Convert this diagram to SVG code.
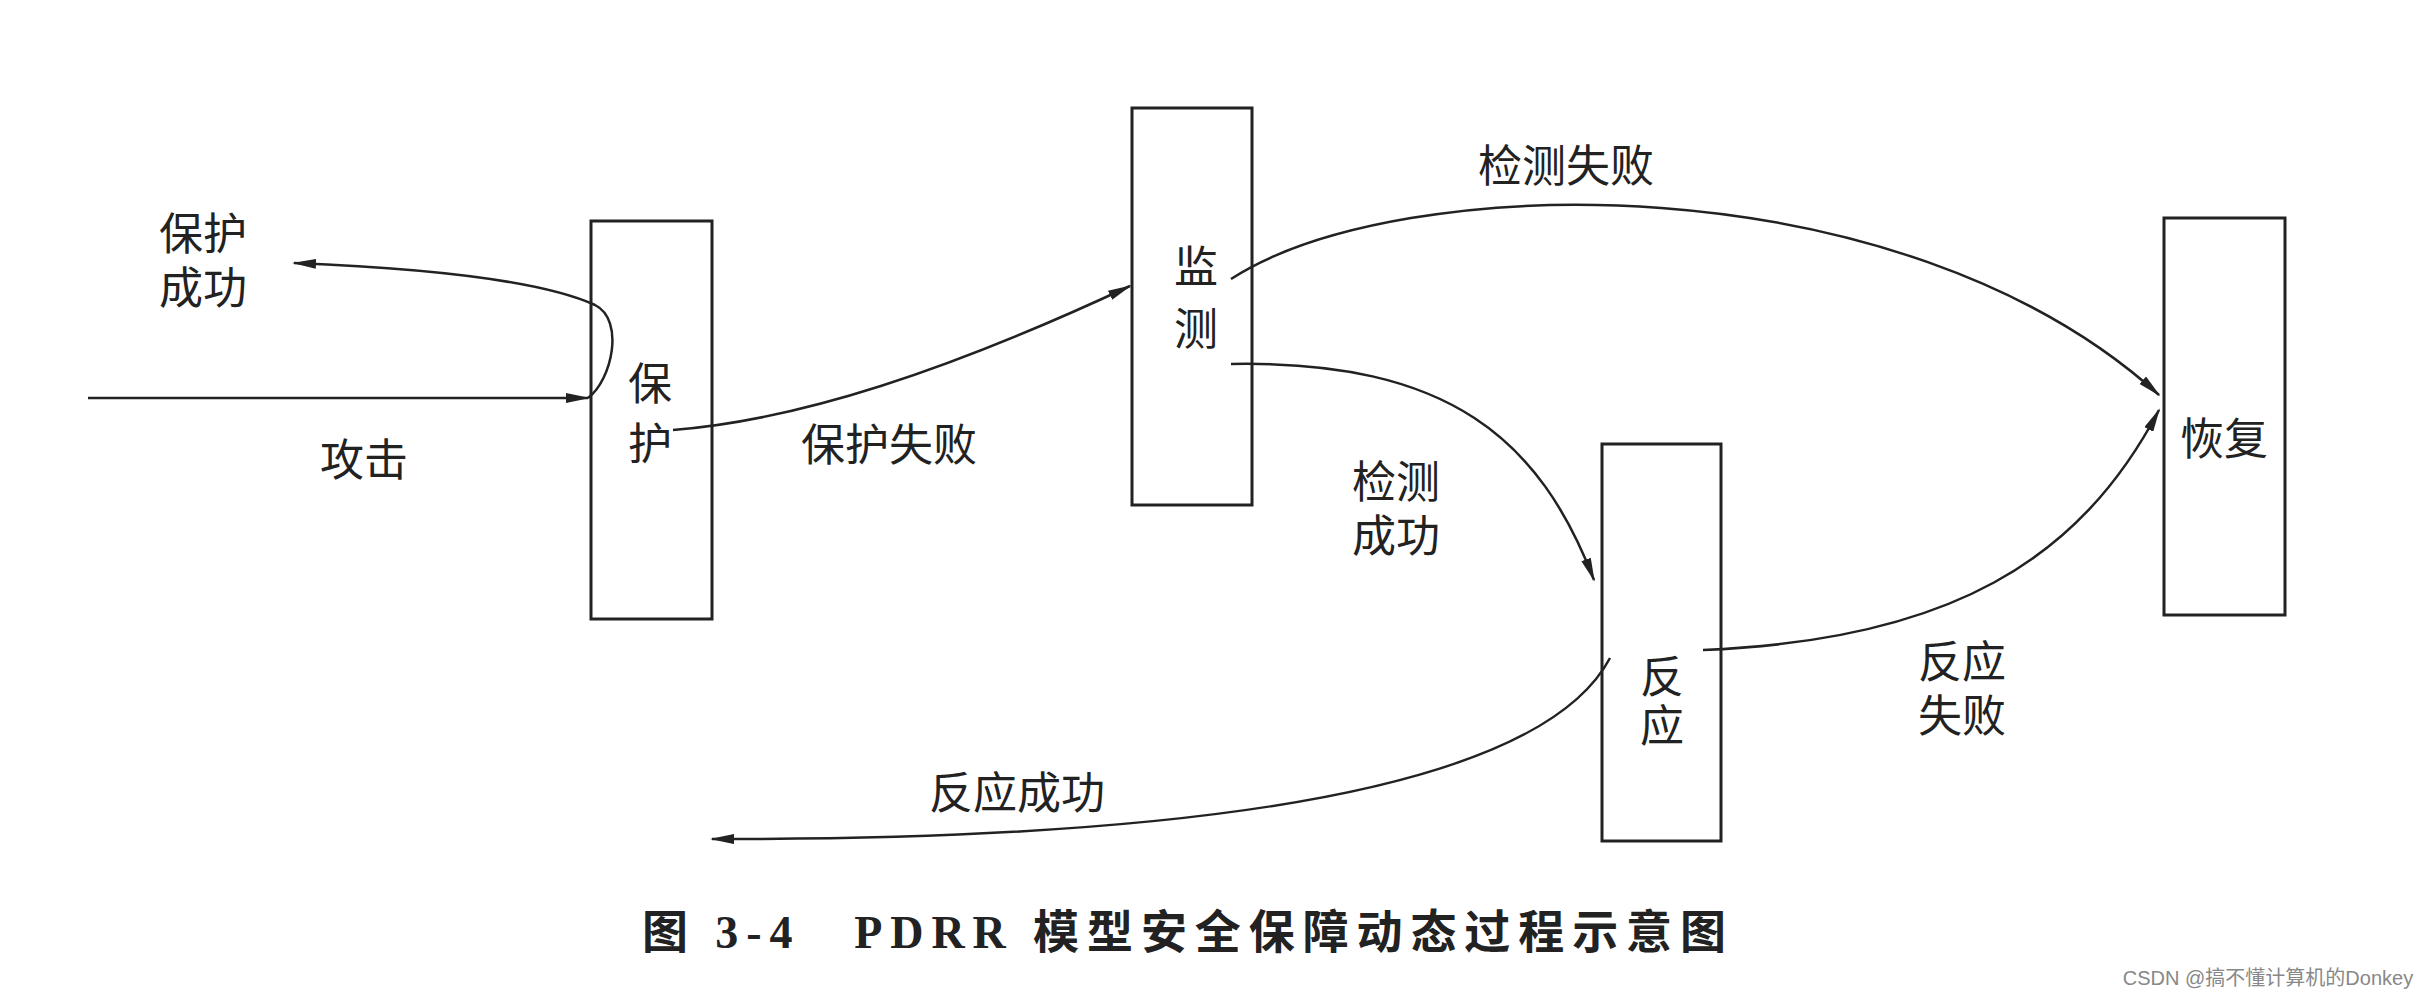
<svg xmlns="http://www.w3.org/2000/svg" width="2427" height="1000" viewBox="0 0 2427 1000">
<style>
.box{fill:none;stroke:#222;stroke-width:3}
.c{fill:none;stroke:#222;stroke-width:2.5;marker-end:url(#ah)}
text{font-family:"Liberation Sans","Noto Sans CJK SC",sans-serif;font-size:44px;fill:#222;text-anchor:middle}
.cap{font-family:"Liberation Serif","Noto Sans CJK SC",serif;font-weight:bold;font-size:46px;text-anchor:start}
.wm{font-size:20px;fill:#888}
</style>
<defs><marker id="ah" markerWidth="24" markerHeight="10" refX="22" refY="5" orient="auto" markerUnits="userSpaceOnUse"><path d="M0,0 L24,5 L0,10 Z" fill="#222"/></marker></defs>
<rect width="2427" height="1000" fill="#fff"/>
<g id="protect"><rect class="box" x="591" y="221" width="121" height="398"/><text x="650" y="400">保</text><text x="650" y="460">护</text></g>
<g id="detect"><rect class="box" x="1132" y="108" width="120" height="397"/><text x="1196" y="283">监</text><text x="1196" y="345">测</text></g>
<g id="react"><rect class="box" x="1602" y="444" width="119" height="397"/><text x="1662" y="693">反</text><text x="1662" y="742">应</text></g>
<g id="recover"><rect class="box" x="2164" y="218" width="121" height="397"/><text x="2224" y="455">恢复</text></g>
<g id="connectors">
<path class="c" d="M88 398 L588 398"/>
<path class="c" d="M588 398 C612 380 625 320 595 305 C540 280 420 268 294 263"/>
<path class="c" d="M673 430 C800 420 950 370 1130 286"/>
<path class="c" d="M1231 279 C1400 170 1900 160 2159 395"/>
<path class="c" d="M1231 364 C1450 360 1540 440 1594 580"/>
<path class="c" d="M1703 650 C1950 640 2080 560 2159 410"/>
<path class="c" d="M1610 658 C1540 790 1200 840 712 839"/>
</g>
<g id="labels">
<text x="203" y="250">保护</text><text x="203" y="304">成功</text>
<text x="364" y="476">攻击</text>
<text x="889" y="461">保护失败</text>
<text x="1566" y="182">检测失败</text>
<text x="1396" y="498">检测</text><text x="1396" y="552">成功</text>
<text x="1962" y="678">反应</text><text x="1962" y="732">失败</text>
<text x="1017" y="809">反应成功</text>
<text class="cap" x="642" y="948" textLength="1084" lengthAdjust="spacing">图 3-4　PDRR 模型安全保障动态过程示意图</text>
<text class="wm" x="2268" y="985">CSDN @搞不懂计算机的Donkey</text>
</g>
</svg>
